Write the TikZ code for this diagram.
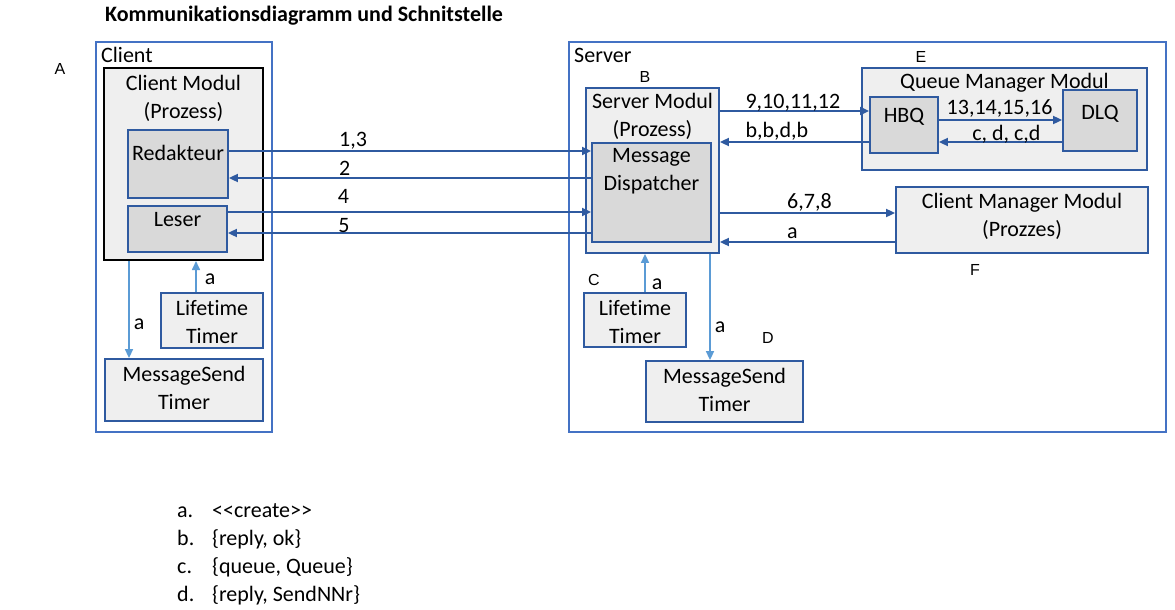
\documentclass[tikz,border=0pt]{standalone}
\usepackage{fontspec}
\setmainfont{Carlito}[Ligatures=NoCommon]
\newfontfamily\letterfont{Liberation Sans}
\usepackage{tikz}
\usetikzlibrary{arrows.meta}
\usepackage{xcolor}
\definecolor{mblue}{RGB}{47,90,160}
\definecolor{oblue}{RGB}{68,114,196}
\definecolor{lblue}{RGB}{91,155,213}
\definecolor{lgray}{RGB}{239,239,239}
\definecolor{dgray}{RGB}{217,217,217}
\newcommand\fs{\fontsize{22}{28}\selectfont}

\begin{document}
\begin{tikzpicture}[x=1pt,y=-1pt,
  txt/.style={font=\fs,align=center,inner sep=0pt},
  lab/.style={font=\fs,text=black,inner sep=0pt,anchor=base west},
  letter/.style={font=\letterfont\fontsize{16}{19}\selectfont,inner sep=0pt},
  size/.style 2 args={minimum width=#1pt,minimum height=#2pt,inner sep=0pt},
  tbox/.style 2 args={label={[txt,anchor=north,yshift=-#1pt]north:{#2}}},
  outer/.style={draw=oblue,line width=1.5pt},
  modul/.style={draw=mblue,fill=lgray,line width=1.8pt},
  inner/.style={draw=mblue,fill=dgray,line width=1.8pt},
  arr/.style={mblue,line width=1.8pt,-{Triangle[length=9pt,width=8pt]}},
  carr/.style={lblue,line width=1.6pt,-{Triangle[length=9pt,width=8pt]}}
  ]
\useasboundingbox (0,0) rectangle (1175,610);
\node[anchor=base west,inner sep=0pt,font=\fs\bfseries] (title) at (105,22) {Kommunikationsdiagramm und Schnitstelle};
% client side
\node[outer,size={176}{390}] (client) at (184,237){};
\node[txt,anchor=base west] (clientlab) at (101,63) {Client};
\node[modul,draw=black,line width=2pt,size={159}{192},tbox={8}{Client Modul\\(Prozess)}] (cm) at (183.5,164){};
\node[inner,size={100}{68},tbox={16}{Redakteur}] (red) at (178,164){};
\node[inner,size={99}{46},tbox={7}{Leser}] (les) at (177.5,229){};
\node[modul,size={102}{55},tbox={8}{Lifetime\\Timer}] (clt) at (212,320.5){};
\node[modul,size={158}{62},tbox={8}{MessageSend\\Timer}] (cms) at (184,390){};
% server side
\node[outer,size={597}{390}] (server) at (867.5,237){};
\node[txt,anchor=base west] (serverlab) at (574,63) {Server};
\node[modul,size={133}{165},tbox={6}{Server Modul\\(Prozess)}] (sm) at (652.5,170.5){};
\node[inner,size={119}{99},tbox={6}{Message\\Dispatcher}] (md) at (651.5,192.5){};
\node[modul,size={285}{102},tbox={6}{Queue Manager Modul}] (qm) at (1004.5,119){};
\node[inner,size={68}{56},tbox={12}{HBQ}] (hbq) at (904,125){};
\node[inner,size={74}{61},tbox={16}{DLQ}] (dlq) at (1100,120.5){};
\node[modul,size={252}{66},tbox={7}{Client Manager Modul\\(Prozzes)}] (cmm) at (1022,220){};
\node[modul,size={102}{54},tbox={8}{Lifetime\\Timer}] (slt) at (635,320){};
\node[modul,size={157}{61},tbox={8}{MessageSend\\Timer}] (sms) at (724.5,391.5){};
% letters
\node[letter] (la) at (60,69) {A};
\node[letter] (lb) at (645,77) {B};
\node[letter] (lc) at (594,280) {C};
\node[letter] (ld) at (768,338) {D};
\node[letter] (le) at (921,57) {E};
\node[letter] (lf) at (975,270) {F};
% client <-> dispatcher
\draw[arr] (red.east |- 0,151) -- (md.west |- 0,151) node[lab,pos=0.302,yshift=5pt]{1,3};
\draw[arr] (md.west |- 0,178) -- (red.east |- 0,178) node[lab,pos=0.698,yshift=3pt]{2};
\draw[arr] (les.east |- 0,212) -- (md.west |- 0,212) node[lab,pos=0.30,yshift=9pt]{4};
\draw[arr] (md.west |- 0,233) -- (les.east |- 0,233) node[lab,pos=0.698,yshift=1pt]{5};
% server internal
\draw[arr] (sm.east |- 0,111) -- (hbq.west |- 0,111) node[lab,pos=0.166,yshift=3pt]{9,10,11,12};
\draw[arr] (hbq.west |- 0,142) -- (sm.east |- 0,142) node[lab,pos=0.834,yshift=5pt]{b,b,d,b};
\draw[arr] (hbq.east |- 0,120) -- (dlq.west |- 0,120) node[lab,pos=0.056,yshift=6pt]{13,14,15,16};
\draw[arr] (dlq.west |- 0,142) -- (hbq.east |- 0,142) node[lab,pos=0.736,yshift=2pt]{c, d, c,d};
\draw[arr] (sm.east |- 0,213) -- (cmm.west |- 0,213) node[lab,pos=0.379,yshift=5pt]{6,7,8};
\draw[arr] (cmm.west |- 0,242) -- (sm.east |- 0,242) node[lab,pos=0.621,yshift=4pt]{a};
% create arrows
\draw[carr] (cm.south -| 129,0) -- (cms.north -| 129,0) node[lab,pos=0.71,xshift=4pt]{a};
\draw[carr] (clt.north -| 196,0) -- (cm.south -| 196,0) node[lab,pos=0.26,xshift=8pt]{a};
\draw[carr] (slt.north -| 645,0) -- (sm.south -| 645,0) node[lab,pos=0.075,xshift=6pt]{a};
\draw[carr] (sm.south -| 710,0) -- (sms.north -| 710,0) node[lab,pos=0.74,xshift=4pt]{a};
% legend
\node[txt,anchor=base west,align=left] (legend) at (177,517) {%
  \begin{tabular}[t]{@{}p{35pt}@{}l@{}}
  a. & <{}<create>{}> \\
  b. & \{reply, ok\} \\
  c. & \{queue, Queue\} \\
  d. & \{reply, SendNNr\}
  \end{tabular}};
\end{tikzpicture}
\end{document}
